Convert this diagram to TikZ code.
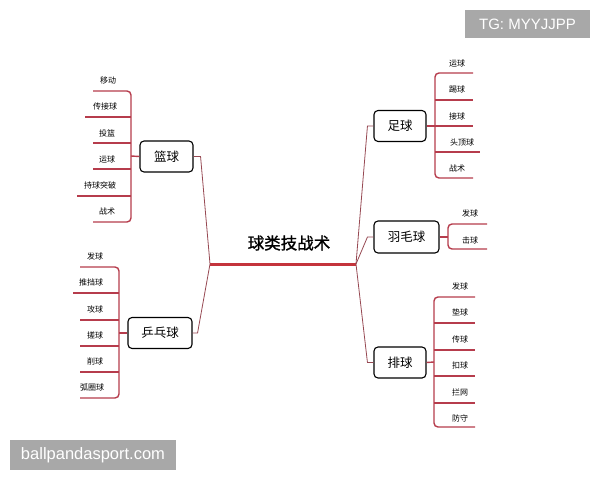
\documentclass[tikz,border=0pt]{standalone}
\usepackage{fontspec}
\newfontfamily\cjk{Noto Sans CJK SC}
\newfontfamily\cjkheavy[FakeBold=1.2]{Noto Sans CJK SC}
\setsansfont{Liberation Sans}
\usetikzlibrary{positioning}
\definecolor{bracketred}{RGB}{182,60,76}
\definecolor{linkred}{RGB}{150,72,82}
\definecolor{hubred}{RGB}{196,52,60}
\definecolor{markgray}{RGB}{168,168,168}
\begin{document}
\begin{tikzpicture}[x=1pt,y=-1pt,font=\cjk]

    % Define node styles
    \tikzstyle{sport_block} = [draw, rounded corners=4pt, line width=1.1pt, minimum width=52pt, minimum height=31pt, text centered, font=\cjk\fontsize{12.5}{13}\selectfont]
    \tikzstyle{item_label} = [inner sep=1pt, font=\cjk\fontsize{8}{9}\selectfont]
    \tikzstyle{bracket_line} = [draw=bracketred, line width=1.4pt, rounded corners=4pt]
    \tikzstyle{link_line} = [draw=linkred, line width=0.8pt]
    \tikzstyle{mark_block} = [fill=markgray, text=white, inner sep=0pt, font=\sffamily]

    \useasboundingbox (0,0) rectangle (600,480);

    % Central topic
    \node [font=\cjkheavy\fontsize{16.5}{17}\selectfont] (topic) at (289,243) {球类技战术};
    \coordinate (hubL) at (210,264);
    \coordinate (hubR) at (356,264);
    \draw [hubred, line width=3pt] (hubL) -- (hubR);

    % Draw sport nodes
    \node [sport_block, minimum width=53pt] (basketball) at (166.5,156.5) {篮球};
    \node [sport_block, minimum width=64pt] (pingpong) at (160,333) {乒乓球};
    \node [sport_block] (football) at (400,126) {足球};
    \node [sport_block, minimum width=65pt, minimum height=32pt] (badminton) at (406.5,237) {羽毛球};
    \node [sport_block] (volleyball) at (400,362.5) {排球};

    % Links to topic
    \draw [link_line] (basketball.east) -- ++(7,0) -- (hubL);
    \draw [link_line] (pingpong.east) -- ++(5,0) -- (hubL);
    \draw [link_line] (football.west) -- ++(-6,0) -- (hubR);
    \draw [link_line] (badminton.west) -- ++(-6,0) -- (hubR);
    \draw [link_line] (volleyball.west) -- ++(-6,0) -- (hubR);

    % Basketball items
    \coordinate (bk_bar) at (131,156);
    \node [item_label] (bk_move) at (108,80) {移动};
    \node [item_label] (bk_pass) at (105,106) {传接球};
    \node [item_label] (bk_shoot) at (107,133) {投篮};
    \node [item_label] (bk_dribble) at (107,159) {运球};
    \node [item_label] (bk_drive) at (100,185) {持球突破};
    \node [item_label] (bk_tactics) at (107,211) {战术};
    \draw [bracket_line] (93,91) -- (131,91) -- (131,222) -- (93,222);
    \draw [bracket_line] (131,117) -- (85,117);
    \draw [bracket_line] (131,143) -- (93,143);
    \draw [bracket_line] (131,169) -- (93,169);
    \draw [bracket_line] (131,196) -- (77,196);
    \draw [bracket_line] (basketball.west) -- (bk_bar);

    % Table tennis items
    \coordinate (pp_bar) at (119,333);
    \node [item_label] (pp_serve) at (95,256) {发球};
    \node [item_label] (pp_block) at (91,282) {推挡球};
    \node [item_label] (pp_attack) at (95,309) {攻球};
    \node [item_label] (pp_push) at (95,335) {搓球};
    \node [item_label] (pp_chop) at (95,361) {削球};
    \node [item_label] (pp_loop) at (92,387) {弧圈球};
    \draw [bracket_line] (80,267) -- (119,267) -- (119,398) -- (80,398);
    \draw [bracket_line] (119,293) -- (73,293);
    \draw [bracket_line] (119,320) -- (80,320);
    \draw [bracket_line] (119,346) -- (80,346);
    \draw [bracket_line] (119,372) -- (80,372);
    \draw [bracket_line] (pingpong.west) -- (pp_bar);

    % Football items
    \coordinate (fb_bar) at (435,126);
    \node [item_label] (fb_dribble) at (457,63) {运球};
    \node [item_label] (fb_kick) at (457,89) {踢球};
    \node [item_label] (fb_trap) at (457,116) {接球};
    \node [item_label] (fb_header) at (462,142) {头顶球};
    \node [item_label] (fb_tactics) at (457,168) {战术};
    \draw [bracket_line] (473,73) -- (435,73) -- (435,178) -- (473,178);
    \draw [bracket_line] (435,100) -- (473,100);
    \draw [bracket_line] (435,126) -- (473,126);
    \draw [bracket_line] (435,152) -- (480,152);
    \draw [bracket_line] (football.east) -- (fb_bar);

    % Badminton items
    \coordinate (bm_bar) at (448,237);
    \node [item_label] (bm_serve) at (470,213) {发球};
    \node [item_label] (bm_hit) at (470,240) {击球};
    \draw [bracket_line] (487,224) -- (448,224) -- (448,249) -- (487,249);
    \draw [bracket_line] (badminton.east) -- (bm_bar);

    % Volleyball items
    \coordinate (vb_bar) at (434,362);
    \node [item_label] (vb_serve) at (460,286) {发球};
    \node [item_label] (vb_dig) at (460,312) {垫球};
    \node [item_label] (vb_set) at (460,339) {传球};
    \node [item_label] (vb_spike) at (460,365) {扣球};
    \node [item_label] (vb_block) at (460,392) {拦网};
    \node [item_label] (vb_defend) at (460,418) {防守};
    \draw [bracket_line] (475,297) -- (434,297) -- (434,427) -- (475,427);
    \draw [bracket_line] (434,323) -- (475,323);
    \draw [bracket_line] (434,350) -- (475,350);
    \draw [bracket_line] (434,376) -- (475,376);
    \draw [bracket_line] (434,403) -- (475,403);
    \draw [bracket_line] (volleyball.east) -- (vb_bar);

    % Watermarks
    \node [mark_block, minimum width=125pt, minimum height=28pt, font=\sffamily\fontsize{15}{15}\selectfont] (tg_mark) at (527.5,24) {TG: MYYJJPP};
    \node [mark_block, minimum width=166pt, minimum height=30pt, font=\sffamily\fontsize{16.5}{17}\selectfont] (site_mark) at (93,455) {ballpandasport.com};

\end{tikzpicture}
\end{document}
